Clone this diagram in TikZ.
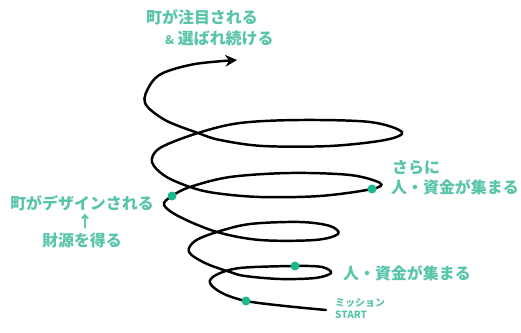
\documentclass[tikz,border=0pt]{standalone}
\usepackage{fontspec}
\usetikzlibrary{arrows.meta}
\newfontfamily\jpfont{Noto Sans CJK JP}
\definecolor{myteal}{RGB}{88,196,170}
\definecolor{mydot}{RGB}{28,184,140}

\begin{document}
\begin{tikzpicture}[x=0.03cm,y=-0.03cm]
\tikzset{LabelStyle/.style ={text=myteal, font=\jpfont\bfseries\fontsize{13.6}{16}\selectfont, inner sep=0pt}}
\tikzset{SmallStyle/.style ={text=myteal, font=\jpfont\bfseries\fontsize{8.5}{10}\selectfont, inner sep=0pt}}
\tikzset{DotStyle/.style ={circle, fill=mydot, inner sep=0pt, minimum size=0.27cm}}
\tikzset{SpiralStyle/.style ={line width=2.1pt, line cap=round, -{Stealth[length=10pt,width=10pt]}}}
\useasboundingbox (0,0) rectangle (521,333);
% spiral, from the start upwards
\draw[SpiralStyle] plot[smooth, tension=0.55] coordinates {
  (326,310) (285,306) (246,301) (222,293) (210,283) (216,275)
  (240,268) (295,266) (322,267) (331,273) (315,278) (280,279) (245,276)
  (230,272) (205,263) (189,252) (195,241) (217,232) (250,224) (300,222)
  (330,226) (338,234) (315,240) (260,240) (217,232) (180,217) (164,205)
  (172,196) (190,187) (230,177) (290,173) (350,175) (380,183) (372,189)
  (320,196) (260,197) (215,193) (190,187) (165,176) (152,162) (160,148)
  (198,133) (240,123) (300,120) (370,122) (402,132) (385,140) (330,146)
  (263,146) (220,140) (198,133) (165,120) (145,103) (150,85) (163,73)
  (195,64) (237,60)};
% dots
\node[DotStyle] (start) at (246,301) {};
\node[DotStyle] (people) at (295,266) {};
\node[DotStyle] (design) at (172,196) {};
\node[DotStyle] (more) at (372,189) {};
% labels
\node[LabelStyle, anchor=west] (goal1) at (146,17) {町が注目される};
\node[LabelStyle, anchor=west] (goal2) at (165,38) {{\fontsize{10}{12}\selectfont\&}\ 選ばれ続ける};
\node[LabelStyle, anchor=west] (more1) at (392,168) {さらに};
\node[LabelStyle, anchor=west] (more2) at (391,187) {人・資金が集まる};
\node[LabelStyle] (design1) at (82,203) {町がデザインされる};
\node[LabelStyle] (arrowup) at (85,221) {↑};
\node[LabelStyle] (design2) at (82,240) {財源を得る};
\node[LabelStyle, anchor=west] (people1) at (343,273) {人・資金が集まる};
\node[SmallStyle, anchor=west] (start1) at (335,303) {ミッション};
\node[SmallStyle, anchor=west] (start2) at (335,315) {START};
\end{tikzpicture}
\end{document}
